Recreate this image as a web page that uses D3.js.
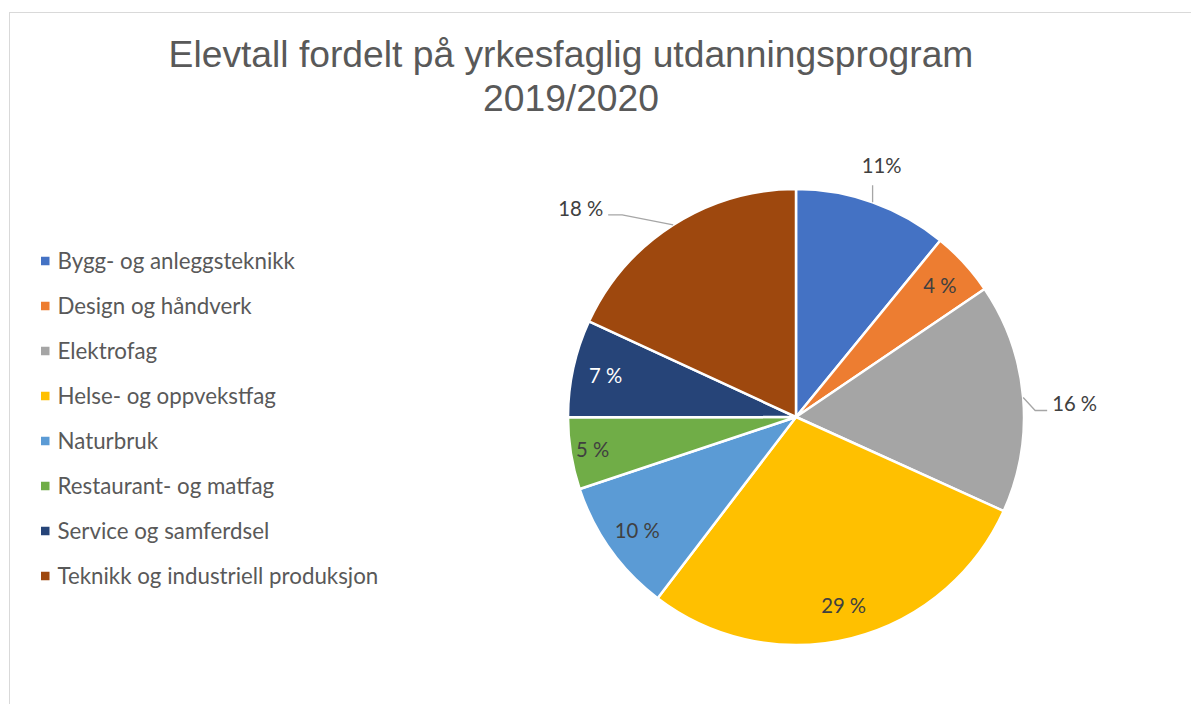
<!DOCTYPE html>
<html>
<head>
<meta charset="utf-8">
<script src="https://cdn.jsdelivr.net/npm/d3@7/dist/d3.min.js"></script>
<style>
  html, body { margin: 0; padding: 0; background: #fff; }
  svg { display: block; }
</style>
</head>
<body>
<svg id="chart" width="1191" height="704"></svg>
<script>
// ---- data ----
const categories = [
  "Bygg- og anleggsteknikk",
  "Design og håndverk",
  "Elektrofag",
  "Helse- og oppvekstfag",
  "Naturbruk",
  "Restaurant- og matfag",
  "Service og samferdsel",
  "Teknikk og industriell produksjon"
];
const shares = [10.9, 4.6, 16.25, 28.6, 9.5, 5.1, 6.9, 18.1];
const shareLabels = ["11%", "4 %", "16 %", "29 %", "10 %", "5 %", "7 %", "18 %"];
const colors = ["#4472C4", "#ED7D31", "#A5A5A5", "#FFC000", "#5B9BD5", "#70AD47", "#264478", "#9E480E"];
const titleLines = ["Elevtall fordelt på yrkesfaglig utdanningsprogram", "2019/2020"];

// ---- layout ----
const W = 1191, H = 704;
const cx = 796, cy = 417, R = 228;
const textColor = "#595959";
const labelFont = "Lato, 'Noto Sans', sans-serif";
const titleFont = "'Liberation Sans', Arial, sans-serif";

const svg = d3.select("#chart");

// chart border
svg.append("rect")
  .attr("x", 9.5).attr("y", 12.5)
  .attr("width", 1300).attr("height", 900)
  .attr("fill", "none").attr("stroke", "#d9d9d9").attr("stroke-width", 1);

// fit a font size so text matches a target width
function fitSize(text, target, family) {
  const t = svg.append("text").attr("font-family", family).attr("font-size", 100).text(text);
  const w = t.node().getComputedTextLength();
  t.remove();
  return 100 * target / w;
}
const titleSize = fitSize(titleLines[0], 805, titleFont);
const legendSize = fitSize(categories[7], 321, labelFont);
const pctSize = fitSize("16 %", 45, labelFont);

// title
const title = svg.append("text")
  .attr("text-anchor", "middle")
  .attr("font-family", titleFont)
  .attr("font-size", titleSize)
  .attr("fill", textColor);
titleLines.forEach((t, i) => {
  title.append("tspan").attr("x", 571).attr("y", 67 + i * 44).text(t);
});

// legend
const legend = svg.append("g");
const legendY = d3.scalePoint().domain(categories).range([261, 576]);
categories.forEach((c, i) => {
  const y = legendY(c);
  legend.append("rect")
    .attr("x", 41).attr("y", y - 4.25)
    .attr("width", 8.5).attr("height", 8.5)
    .attr("fill", colors[i]);
  legend.append("text")
    .attr("x", 57.5).attr("y", y)
    .attr("dy", "0.36em")
    .attr("font-family", labelFont)
    .attr("font-size", legendSize)
    .attr("fill", textColor)
    .text(c);
});

// pie
const pie = d3.pie().sort(null).value(d => d)(shares);
const arc = d3.arc().innerRadius(0).outerRadius(R);
const g = svg.append("g").attr("transform", `translate(${cx},${cy})`);
g.selectAll("path.slice")
  .data(pie)
  .join("path")
  .attr("class", "slice")
  .attr("d", arc)
  .attr("fill", (d, i) => colors[i])
  .attr("stroke", "#fff")
  .attr("stroke-width", 2.5)
  .attr("stroke-linejoin", "round");

// labels
const polar = (a, r) => [r * Math.sin(a), -r * Math.cos(a)];
const insideR = [0, 195, 0, 195, 195, 206, 195, 0];
const leaderColor = "#a6a6a6";

pie.forEach((d, i) => {
  const mid = (d.startAngle + d.endAngle) / 2;
  const edge = polar(mid, R);
  let x, y, anchor = "middle";
  let fill = i === 6 ? "#ffffff" : "#404040";
  if (insideR[i] > 0) {
    [x, y] = polar(mid, insideR[i]);
  } else if (i === 0) {
    x = edge[0] + 9; y = edge[1] - 37;
    g.append("path")
      .attr("d", `M${edge[0]},${edge[1]}L${edge[0]},${edge[1] - 17}`)
      .attr("stroke", leaderColor).attr("fill", "none").attr("stroke-width", 1.3);
  } else if (i === 2) {
    const elbow = [edge[0] + 12, edge[1] + 13];
    const end = [elbow[0] + 12, elbow[1]];
    g.append("path")
      .attr("d", `M${edge[0]},${edge[1]}L${elbow[0]},${elbow[1]}L${end[0]},${end[1]}`)
      .attr("stroke", leaderColor).attr("fill", "none").attr("stroke-width", 1.3);
    x = end[0] + 5; y = end[1] - 7; anchor = "start";
  } else if (i === 7) {
    const elbow = [edge[0] - 51, edge[1] - 10];
    const end = [elbow[0] - 14, elbow[1]];
    g.append("path")
      .attr("d", `M${edge[0]},${edge[1]}L${elbow[0]},${elbow[1]}L${end[0]},${end[1]}`)
      .attr("stroke", leaderColor).attr("fill", "none").attr("stroke-width", 1.3);
    x = end[0] - 5; y = end[1] - 6; anchor = "end";
  }
  g.append("text")
    .attr("x", x).attr("y", y)
    .attr("dy", "0.36em")
    .attr("text-anchor", anchor)
    .attr("font-family", labelFont)
    .attr("font-size", pctSize)
    .attr("fill", fill)
    .text(shareLabels[i]);
});
</script>
</body>
</html>
